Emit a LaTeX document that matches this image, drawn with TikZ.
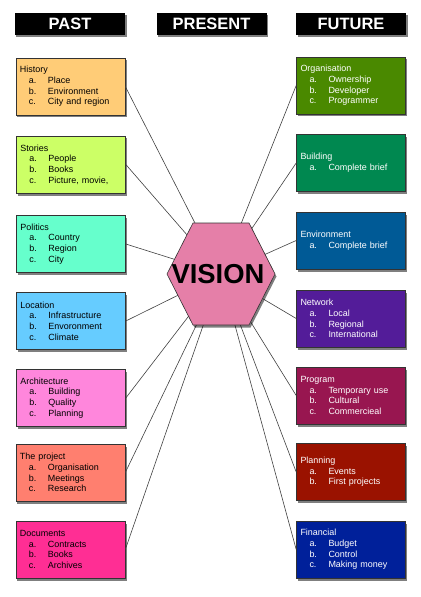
\documentclass[tikz,border=0pt]{standalone}
\usepackage{fontspec}
\setmainfont{Liberation Sans}
\usetikzlibrary{shadows}
\definecolor{cHist}{HTML}{FFCC77}
\definecolor{cStor}{HTML}{CCFF66}
\definecolor{cPol}{HTML}{66FFCC}
\definecolor{cLoc}{HTML}{66CCFF}
\definecolor{cArch}{HTML}{FF86DC}
\definecolor{cProj}{HTML}{FF7F6F}
\definecolor{cDoc}{HTML}{FF2E94}
\definecolor{cOrg}{HTML}{4A8900}
\definecolor{cBld}{HTML}{008850}
\definecolor{cEnv}{HTML}{005A96}
\definecolor{cNet}{HTML}{531C99}
\definecolor{cPrg}{HTML}{981650}
\definecolor{cPln}{HTML}{9A1200}
\definecolor{cFin}{HTML}{00209A}
\definecolor{cHex}{HTML}{E57FA8}
\newcommand{\itm}[2]{\hspace*{9bp}\makebox[19bp][l]{#1}#2}
\tikzset{
  x=1bp, y=-1bp,
  sh/.style={drop shadow={shadow xshift=1.5bp, shadow yshift=-2.5bp, opacity=0.5, fill=black}},
  infobox/.style={draw=black!80, line width=0.6bp, sh, text width=101bp, inner xsep=4bp,
    inner ysep=0bp, minimum height=57bp, align=left, font=\fontsize{9}{10.7}\selectfont},
  darkbox/.style={infobox, text=white},
  header/.style={fill=black, text=white, minimum width=110bp, minimum height=22bp, inner sep=0pt,
    font=\fontsize{16.5}{18}\selectfont\bfseries, sh},
  link/.style={draw=black!75, line width=0.6bp}
}
\begin{document}
\begin{tikzpicture}
\useasboundingbox (0,0) rectangle (420,597);
% headers
\node[header] (past) at (70,24) {PAST};
\node[header] (present) at (211.5,24) {PRESENT};
\node[header] (future) at (351,24) {FUTURE};
% left boxes
\node[infobox, fill=cHist] (hist) at (70.5,86.5) {History\\\itm{a.}{Place}\\\itm{b.}{Environment}\\\itm{c.}{City and region}};
\node[infobox, fill=cStor] (stor) at (71,164.5) {Stories\\\itm{a.}{People}\\\itm{b.}{Books}\\\itm{c.}{Picture, movie,}};
\node[infobox, fill=cPol] (pol) at (71,244) {Politics\\\itm{a.}{Country}\\\itm{b.}{Region}\\\itm{c.}{City}};
\node[infobox, fill=cLoc] (loc) at (71,321) {Location\\\itm{a.}{Infrastructure}\\\itm{b.}{Envoronment}\\\itm{c.}{Climate}};
\node[infobox, fill=cArch] (arch) at (71,398) {Architecture\\\itm{a.}{Building}\\\itm{b.}{Quality}\\\itm{c.}{Planning}};
\node[infobox, fill=cProj] (proj) at (70.5,472.5) {The project\\\itm{a.}{Organisation}\\\itm{b.}{Meetings}\\\itm{c.}{Research}};
\node[infobox, fill=cDoc] (doc) at (70.5,549.5) {Documents\\\itm{a.}{Contracts}\\\itm{b.}{Books}\\\itm{c.}{Archives}};
% right boxes
\node[darkbox, fill=cOrg] (org) at (351,85.5) {Organisation\\\itm{a.}{Ownership}\\\itm{b.}{Developer}\\\itm{c.}{Programmer}};
\node[darkbox, fill=cBld] (bld) at (351,163) {Building\\\itm{a.}{Complete brief}};
\node[darkbox, fill=cEnv] (env) at (351,240.5) {Environment\\\itm{a.}{Complete brief}};
\node[darkbox, fill=cNet] (net) at (351,318.5) {Network\\\itm{a.}{Local}\\\itm{b.}{Regional}\\\itm{c.}{International}};
\node[darkbox, fill=cPrg] (prg) at (351,395.5) {Program\\\itm{a.}{Temporary use}\\\itm{b.}{Cultural}\\\itm{c.}{Commercieal}};
\node[darkbox, fill=cPln] (pln) at (351,472) {Planning\\\itm{a.}{Events}\\\itm{b.}{First projects}};
\node[darkbox, fill=cFin] (fin) at (351,549.5) {Financial\\\itm{a.}{Budget}\\\itm{b.}{Control}\\\itm{c.}{Making money}};
% connectors
\coordinate (vc) at (221,274);
\foreach \n in {hist,stor,pol,loc,arch,proj,doc}{\draw[link] (\n.east) -- (vc);}
\foreach \n in {org,bld,env,net,prg,pln,fin}{\draw[link] (\n.west) -- (vc);}
% hexagon
\draw[fill=cHex, draw=black!80, line width=0.6bp, sh] (167,274) -- (193,223) -- (249,223) -- (275,274) -- (249,325) -- (193,325) -- cycle;
\node[font=\fontsize{27.5}{30}\selectfont\bfseries, inner sep=0pt] (vis) at (218,274) {VISION};
\end{tikzpicture}
\end{document}
